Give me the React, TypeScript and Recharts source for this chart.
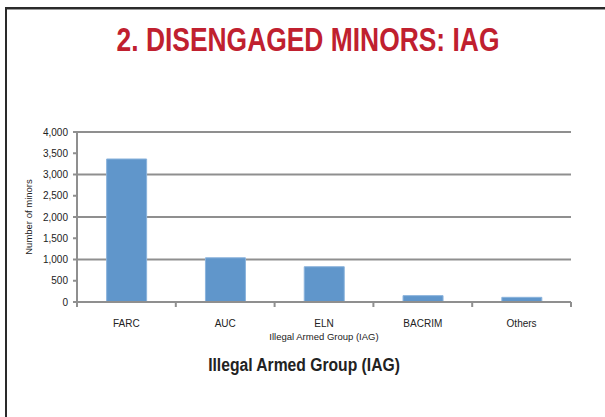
import React from "react";
import { BarChart, Bar, XAxis, YAxis, CartesianGrid } from "recharts";

const groups = ["FARC", "AUC", "ELN", "BACRIM", "Others"];
const minors = [3365, 1040, 830, 150, 110];
const yTicks = [0, 500, 1000, 1500, 2000, 2500, 3000, 3500, 4000];

const data = groups.map((g, i) => ({ group: g, minors: minors[i] }));

const FONT = '"Liberation Sans", Arial, sans-serif';
const fmt = (v: number) => v.toLocaleString("en-US");
const GRID = "#8f8f8f";
const TICK_GAP = 18;

// category label plus tick marks on the band boundaries (Excel style)
function GroupTick(props: any) {
  const { x, y, payload, index, visibleTicksCount } = props;
  const half = payload.offset || 0;
  const axisY = y - TICK_GAP;
  const last = index === visibleTicksCount - 1;
  return (
    <g>
      <line x1={x - half} x2={x - half} y1={axisY} y2={axisY + 5} stroke={GRID} strokeWidth={2} />
      {last && <line x1={x + half} x2={x + half} y1={axisY} y2={axisY + 5} stroke={GRID} strokeWidth={2} />}
      <text x={x} y={y} dy="0.71em" textAnchor="middle" fontSize={10} fill="#222" fontFamily={FONT}>
        {payload.value}
      </text>
    </g>
  );
}

export default function App() {
  return (
    <div style={{ position: "absolute", left: 0, top: 0, width: 605, height: 417, background: "#fff", fontFamily: FONT }}>
      {/* slide frame: top and left edges only */}
      <div style={{ position: "absolute", left: 5, top: 7, width: 600, height: 2, background: "#2a2a2a", borderBottom: "1px solid #999" }} />
      <div style={{ position: "absolute", left: 5, top: 7, width: 2, height: 410, background: "#2a2a2a" }} />
      <div style={{ position: "absolute", left: 0, top: 22, width: 616, textAlign: "center", color: "#C0202F", fontWeight: 700, fontSize: 33, lineHeight: "36px", transform: "scaleX(0.8)", transformOrigin: "308px 0" }}>
        2. DISENGAGED MINORS: IAG
      </div>
      <BarChart width={605} height={417} data={data} barCategoryGap="30%" margin={{ top: 132, right: 34, bottom: 85, left: 37 }}>
        <CartesianGrid vertical={false} stroke={GRID} strokeWidth={2} />
        <XAxis
          dataKey="group"
          height={30}
          tickLine={false}
          tickSize={0}
          tickMargin={TICK_GAP}
          interval={0}
          axisLine={{ stroke: GRID, strokeWidth: 2 }}
          tick={<GroupTick />}
          label={{ value: "Illegal Armed Group (IAG)", position: "insideBottom", offset: -8, fontSize: 9.5, fill: "#222", fontFamily: FONT }}
        />
        <YAxis
          domain={[0, 4000]}
          ticks={yTicks}
          width={40}
          tickFormatter={fmt}
          axisLine={{ stroke: GRID, strokeWidth: 2 }}
          tickLine={{ stroke: GRID, strokeWidth: 2 }}
          tickSize={4}
          tickMargin={5}
          tick={{ fontSize: 10, fill: "#222", fontFamily: FONT }}
          label={{ value: "Number of minors", angle: -90, position: "insideLeft", offset: -8, fontSize: 9.5, fill: "#222", fontFamily: FONT, style: { textAnchor: "middle" } }}
        />
        <Bar dataKey="minors" fill="#6096CB" stroke="#8bb3dc" strokeWidth={1} isAnimationActive={false} />
      </BarChart>
      <div style={{ position: "absolute", left: 0, top: 355, width: 608, textAlign: "center", color: "#222", fontWeight: 700, fontSize: 18, transform: "scaleX(0.87)", transformOrigin: "304px 0" }}>
        Illegal Armed Group (IAG)
      </div>
    </div>
  );
}
